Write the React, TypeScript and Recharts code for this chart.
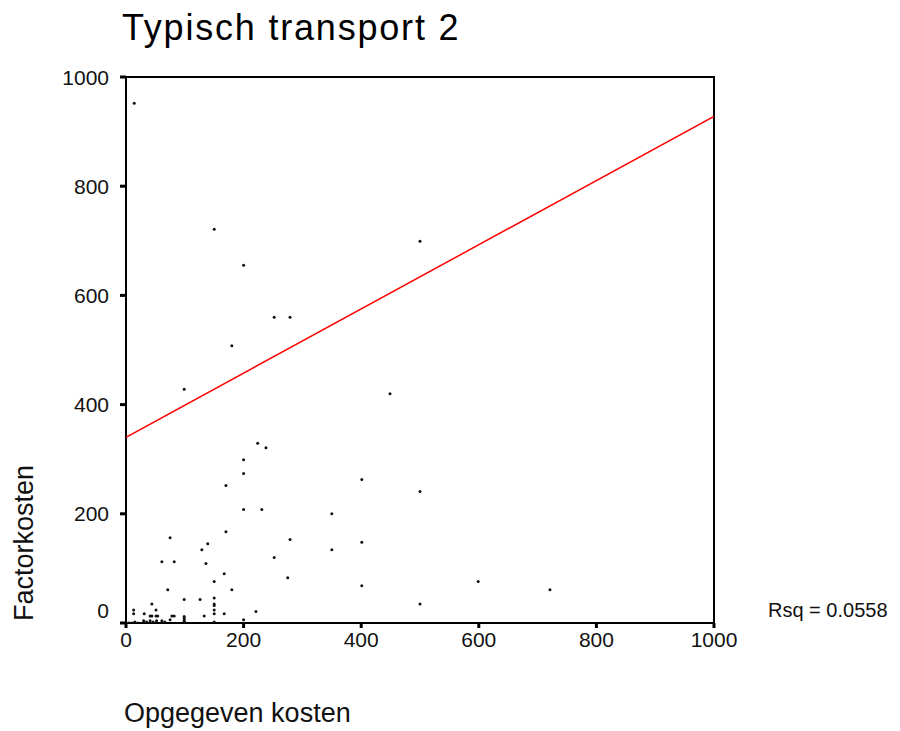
import React from "react";
import {
  ScatterChart,
  Scatter,
  XAxis,
  YAxis,
  ReferenceArea,
} from "recharts";

const titleText = "Typisch transport 2";
const xAxisTitle = "Opgegeven kosten";
const yAxisTitle = "Factorkosten";
const rsqText = "Rsq = 0.0558";

const xTicks = [0, 200, 400, 600, 800, 1000];
const yTicks = [0, 200, 400, 600, 800, 1000];

const xValues = [
  14, 150, 500, 200, 252, 279, 180, 99, 449, 224, 238, 200, 200, 170, 200, 231,
  170, 75, 139, 129, 279, 61, 82, 136, 252, 167, 275, 71, 180, 150, 99, 126,
  150, 150, 150, 150, 150, 44, 51, 13, 13, 31, 41, 44, 51, 54, 78, 82, 133, 167,
  221, 99, 99, 99, 99, 99, 75, 150, 200, 401, 500, 350, 401, 350, 401, 599, 721,
  500, 0, 5, 10, 15, 20, 30, 35, 41, 46, 52, 61, 66,
];
const yValues = [
  952, 721, 699, 655, 560, 560, 508, 428, 420, 329, 321, 299, 274, 252, 208, 208,
  167, 156, 145, 134, 153, 112, 112, 109, 120, 90, 83, 61, 61, 76, 43, 43, 46, 35,
  32, 24, 17, 35, 24, 24, 17, 17, 13, 13, 13, 13, 13, 13, 13, 17, 21, 12, 9, 6, 3,
  0, 6, 2, 6, 263, 241, 200, 148, 134, 68, 76, 61, 35, 0, 0, 0, 2, 0, 4, 2, 4, 2,
  4, 4, 2,
];

const fitX = [0, 1000];
const fitY = [340, 928];

const points = xValues.map((x, i) => ({ x, y: yValues[i] }));
const fitLine = fitX.map((x, i) => ({ x, y: fitY[i] }));

const FONT = "'Liberation Sans', Arial, sans-serif";

const Dot = (props: any) => {
  const { cx, cy } = props;
  if (cx == null || cy == null) return null;
  return <circle cx={cx} cy={cy} r={1.5} fill="#111" />;
};

const NoShape = () => null;

const YTick = (props: any) => {
  const { x, y, payload } = props;
  const dy = payload.value === 0 ? -13 : 0;
  return (
    <text
      x={x}
      y={y + dy}
      textAnchor="end"
      dominantBaseline="central"
      fontFamily={FONT}
      fontSize={21}
      fill="#111"
    >
      {payload.value}
    </text>
  );
};

const XTick = (props: any) => {
  const { x, y, payload } = props;
  return (
    <text
      x={x}
      y={y}
      textAnchor="middle"
      dominantBaseline="hanging"
      fontFamily={FONT}
      fontSize={21}
      fill="#111"
    >
      {payload.value}
    </text>
  );
};

export default function App() {
  return (
    <div
      style={{
        position: "absolute",
        left: 0,
        top: 0,
        width: 900,
        height: 731,
        background: "#fff",
      }}
    >
      <ScatterChart
        width={900}
        height={731}
        margin={{ top: 77, right: 186, bottom: 78, left: 0 }}
      >
        <XAxis
          type="number"
          dataKey="x"
          domain={[0, 1000]}
          ticks={xTicks}
          allowDataOverflow
          height={30}
          axisLine={{ stroke: "#000", strokeWidth: 2 }}
          tickLine={{ stroke: "#000", strokeWidth: 3 }}
          tickSize={5}
          tickMargin={4}
          tick={<XTick />}
        />
        <YAxis
          type="number"
          dataKey="y"
          domain={[0, 1000]}
          ticks={yTicks}
          allowDataOverflow
          width={126}
          axisLine={{ stroke: "#000", strokeWidth: 2 }}
          tickLine={{ stroke: "#000", strokeWidth: 3 }}
          tickSize={6}
          tickMargin={11}
          tick={<YTick />}
        />
        <ReferenceArea
          x1={0}
          x2={1000}
          y1={0}
          y2={1000}
          fill="none"
          stroke="#000"
          strokeWidth={2}
          ifOverflow="visible"
        />
        <Scatter
          data={points}
          shape={<Dot />}
          isAnimationActive={false}
        />
        <Scatter
          data={fitLine}
          line={{ stroke: "#ff0000", strokeWidth: 1.5 }}
          shape={<NoShape />}
          isAnimationActive={false}
        />
      </ScatterChart>
      <svg
        width={900}
        height={731}
        style={{ position: "absolute", left: 0, top: 0, pointerEvents: "none" }}
      >
        <text
          x={122}
          y={40}
          fontFamily={FONT}
          fontSize={36}
          letterSpacing={1.8}
          fill="#000"
        >
          {titleText}
        </text>
        <text x={124} y={722} fontFamily={FONT} fontSize={27} fill="#111">
          {xAxisTitle}
        </text>
        <text
          x={33}
          y={543}
          fontFamily={FONT}
          fontSize={27}
          textAnchor="middle"
          transform="rotate(-90, 33, 543)"
          fill="#111"
        >
          {yAxisTitle}
        </text>
        <text x={768} y={617} fontFamily={FONT} fontSize={20} fill="#111">
          {rsqText}
        </text>
      </svg>
    </div>
  );
}
